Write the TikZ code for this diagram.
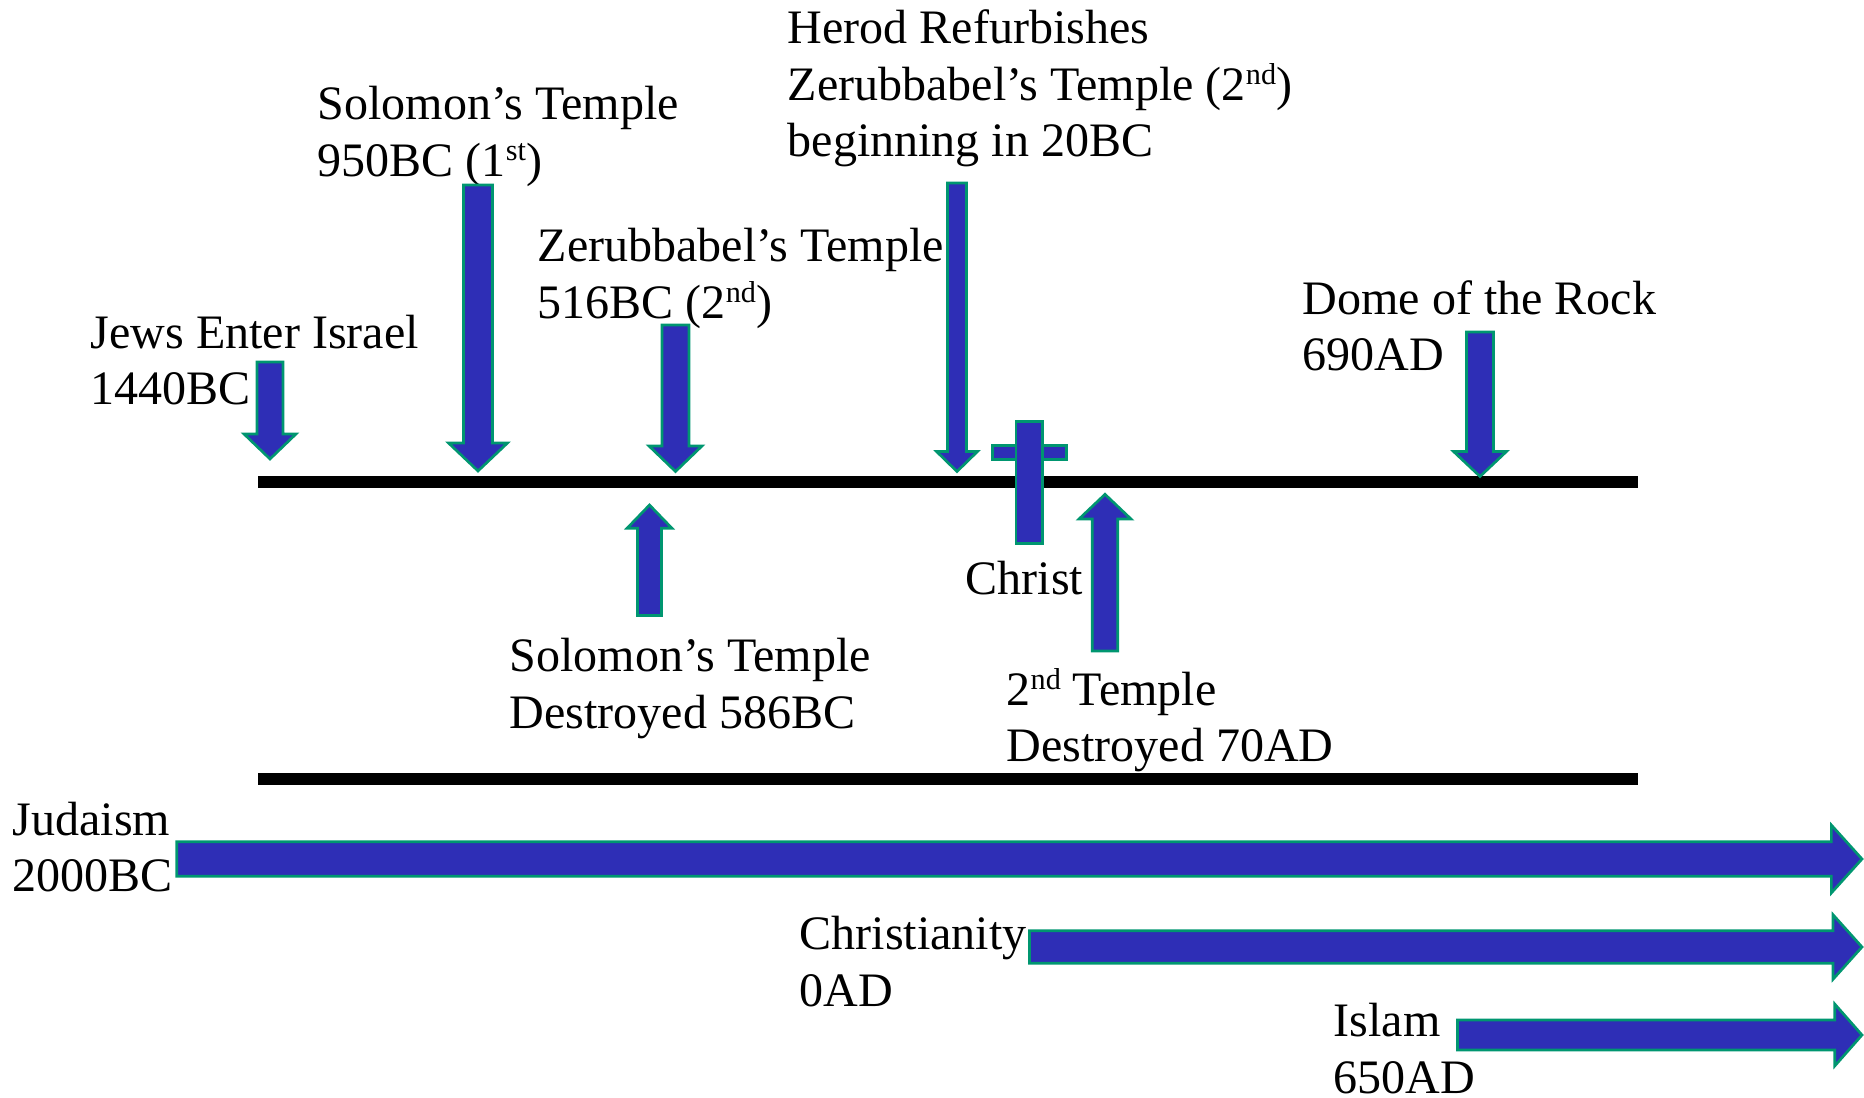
\documentclass[tikz,border=0pt]{standalone}
\usepackage{fontspec}
\setmainfont{Liberation Serif}
\usepackage{tikz}

\definecolor{arrowfill}{RGB}{46,46,182}
\definecolor{arrowedge}{RGB}{0,150,112}
\newcommand{\ordsup}[1]{\raisebox{0.33em}{\fontsize{8.6}{9}\selectfont #1}}
\tikzset{
  tltext/.style={anchor=base west, inner sep=0pt, align=left,
    font=\fontsize{13.66}{16.13}\selectfont},
  blockarrow/.style={fill=arrowfill, draw=arrowedge, line width=0.75pt},
  timeline/.style={line width=0.12cm}
}

\begin{document}
\begin{tikzpicture}
  [x=0.01cm, y=-0.01cm]
  \useasboundingbox (0,0) rectangle (1864,1098);

  \draw[timeline] (258,482.5) -- (1638,482.5);
  \draw[timeline] (258,779) -- (1638,779);

  \node[tltext] (jews) at (90,405) {Jews Enter Israel\\1440BC};
  \node[tltext] (sol1) at (317,176.5) {Solomon’s Temple\\950BC (1\ordsup{st})};
  \node[tltext] (zer2) at (537,318.5) {Zerubbabel’s Temple\\516BC (2\ordsup{nd})};
  \node[tltext] (herod) at (787,157) {Herod Refurbishes\\Zerubbabel’s Temple (2\ordsup{nd})\\beginning in 20BC};
  \node[tltext] (dome) at (1302,371) {Dome of the Rock\\690AD};
  \node[tltext] (soldest) at (509,728.5) {Solomon’s Temple\\Destroyed 586BC};
  \node[tltext] (christ) at (965,595) {Christ};
  \node[tltext] (tmpldest) at (1006,762) {2\ordsup{nd} Temple\\Destroyed 70AD};
  \node[tltext] (judaism) at (12,892) {Judaism\\2000BC};
  \node[tltext] (christianity) at (799,1006.5) {Christianity\\0AD};
  \node[tltext] (islam) at (1333,1093) {Islam\\650AD};

  \foreach \cx/\ytop/\ytip/\sw/\hw/\hl in {270/362/459/13/26/25, 478/185/471/14.5/29.5/28,
    675.5/325/471.5/13.5/26.5/25.5, 957/183/471.5/9.5/20.5/20, 1480/332/476.5/13.5/26.5/25}
  \draw[blockarrow] ({\cx-\sw},\ytop) -- ({\cx+\sw},\ytop) -- ({\cx+\sw},{\ytip-\hl})
    -- ({\cx+\hw},{\ytip-\hl}) -- (\cx,\ytip) -- ({\cx-\hw},{\ytip-\hl})
    -- ({\cx-\sw},{\ytip-\hl}) -- cycle;

  \foreach \cx/\ybot/\ytip/\sw/\hw/\hl in {649.5/615.5/505/12/22.5/23.3, 1105/651/494.3/12.7/26/24.7}
  \draw[blockarrow] ({\cx-\sw},\ybot) -- ({\cx+\sw},\ybot) -- ({\cx+\sw},{\ytip+\hl})
    -- ({\cx+\hw},{\ytip+\hl}) -- (\cx,\ytip) -- ({\cx-\hw},{\ytip+\hl})
    -- ({\cx-\sw},{\ytip+\hl}) -- cycle;

  \foreach \xl/\cy/\xt/\sh/\hh/\hl in {176.7/859/1862/17.2/34/30.7, 1029.5/947/1862/16.3/32.3/29,
    1457.5/1035/1862/15/31/27.3}
  \draw[blockarrow] (\xl,{\cy-\sh}) -- ({\xt-\hl},{\cy-\sh}) -- ({\xt-\hl},{\cy-\hh})
    -- (\xt,\cy) -- ({\xt-\hl},{\cy+\hh}) -- ({\xt-\hl},{\cy+\sh})
    -- (\xl,{\cy+\sh}) -- cycle;

  \draw[blockarrow] (992.3,445.7) rectangle (1066.7,459.3);
  \draw[blockarrow] (1016,421.7) rectangle (1042.3,543.3);

\end{tikzpicture}
\end{document}
